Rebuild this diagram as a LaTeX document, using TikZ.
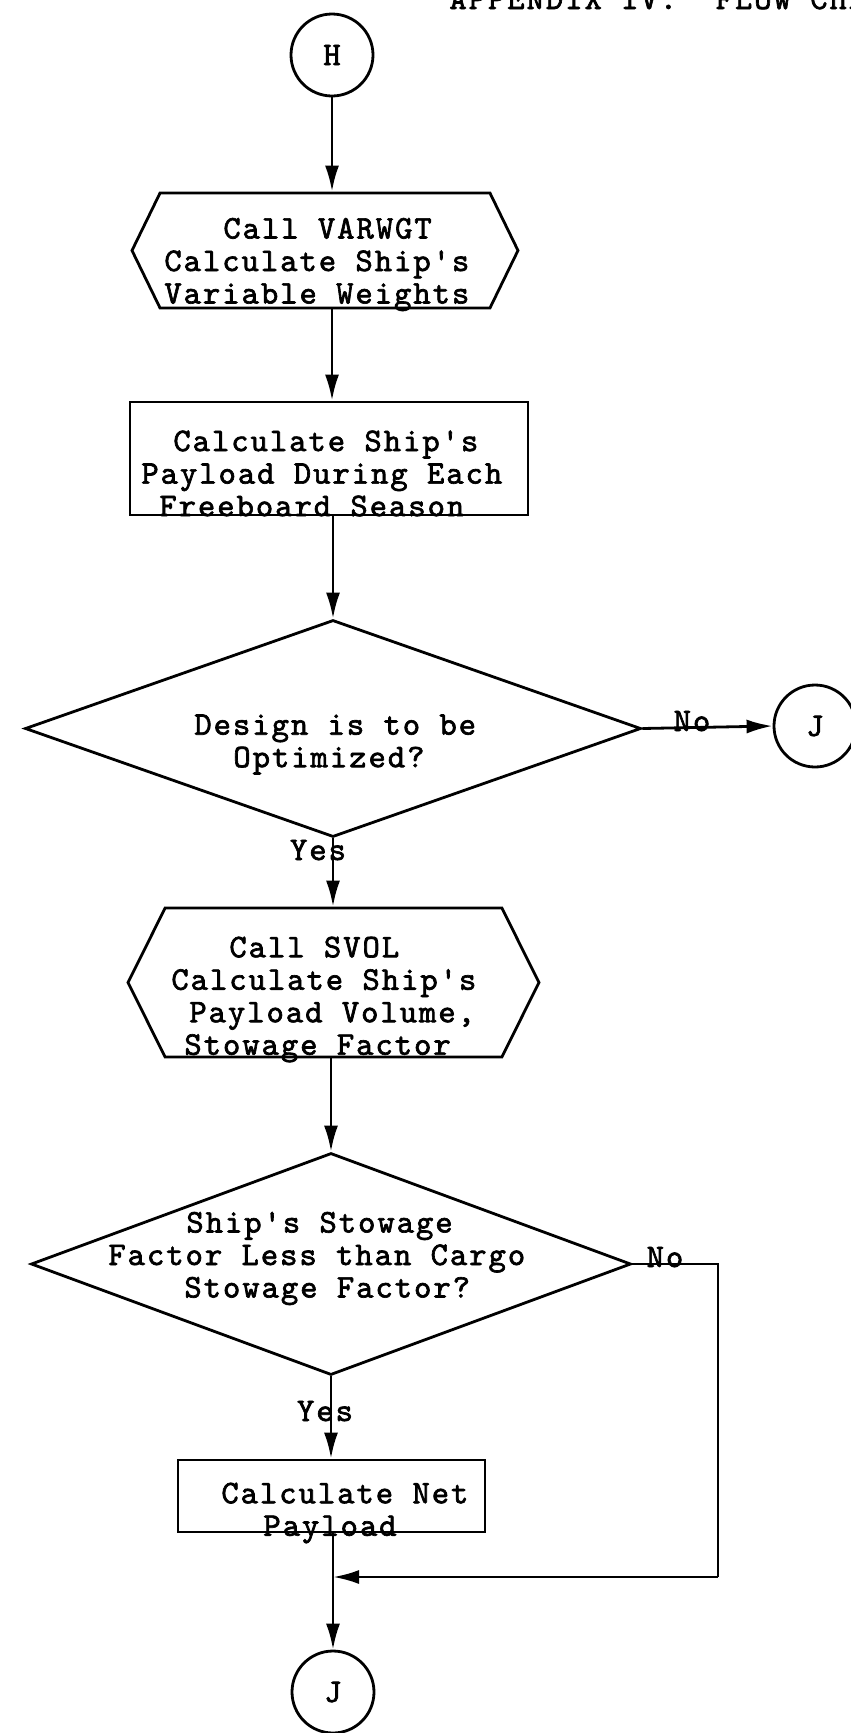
\documentclass[tikz,border=0pt]{standalone}
\usepackage{fontspec}
\setmonofont{lmmono10-regular.otf}[LetterSpace=6, FakeBold=2]
\usepackage{tikz}
\usetikzlibrary{positioning,shapes.geometric,shapes.symbols,arrows.meta}

\begin{document}
\begin{tikzpicture}[x=1pt, y=-1pt, line width=2.8pt,
	every node/.style={font=\ttfamily\fontsize{33}{32.5}\selectfont},
	connector/.style={draw, circle, minimum size=82pt, inner sep=0pt},
	subcall/.style={draw, signal, signal to=west and east, signal pointer angle=128, inner sep=0pt},
	process/.style={draw, rectangle, inner sep=0pt},
	decision/.style={draw, diamond, inner sep=0pt},
	typed/.style={align=left, inner sep=0pt, anchor=west},
	answer/.style={anchor=base, inner sep=0pt},
	flow/.style={-{Latex[length=26pt, width=14pt]}}]

	\useasboundingbox (0,0) rectangle (851,1733);
	\clip (0,0) rectangle (851,1733);

	\node[anchor=base west, inner sep=0pt] (title) at (448,9) {APPENDIX IV.\ \ FLOW CHART};

	\node[connector] (h) at (332,55) {H};

	\node[subcall, minimum width=386pt, minimum height=115pt] (varwgt) at (325,250.5) {};
	\node[typed] (varwgt-t) at (163,264.5) {\hspace*{59pt}Call VARWGT\\Calculate Ship's\\Variable Weights};

	\node[process, minimum width=398pt, minimum height=113pt] (payload) at (329,458.5) {};
	\node[typed] (payload-t) at (140,473.5) {\hspace*{32pt}Calculate Ship's\\Payload During Each\\\hspace*{18pt}Freeboard Season};

	\node[decision, minimum width=616pt, minimum height=217pt] (optq) at (333,728.5) {};
	\node[typed] (optq-t) at (193,744.5) {Design is to be\\\hspace*{39pt}Optimized?};
	\node[connector] (jopt) at (815,726) {J};
	\node[answer] (optq-no) at (692,731) {No};
	\node[answer] (optq-yes) at (318,860) {Yes};

	\node[subcall, signal pointer angle=127, minimum width=411pt, minimum height=149pt] (svol) at (333.5,982.5) {};
	\node[typed] (svol-t) at (170,999.5) {\hspace*{58pt}Call SVOL\\Calculate Ship's\\\hspace*{18pt}Payload Volume,\\\hspace*{13pt}Stowage Factor};

	\node[decision, minimum width=600pt, minimum height=222pt] (stowq) at (331,1264) {};
	\node[typed] (stowq-t) at (107,1258.5) {\hspace*{78pt}Ship's Stowage\\Factor Less than Cargo\\\hspace*{76pt}Stowage Factor?};
	\node[answer] (stowq-no) at (665,1267) {No};
	\node[answer] (stowq-yes) at (325,1421) {Yes};

	\node[process, minimum width=307pt, minimum height=72pt] (netpay) at (331.5,1496) {};
	\node[typed] (netpay-t) at (220,1513) {Calculate Net\\\hspace*{42pt}Payload};

	\node[connector] (jend) at (333,1692) {J};

	\coordinate (merge) at (333,1577);
	\coordinate (loop) at (718,1577);

	\draw[flow] (h.south) -- (h.south |- varwgt.north);
	\draw[flow] (h |- varwgt.south) -- (h |- payload.north);
	\draw[flow] (optq.north |- payload.south) -- (optq.north);
	\draw[flow] (optq.east) -- (jopt.west);
	\draw[flow] (optq.south) -- (optq.south |- svol.north);
	\draw[flow] (stowq.north |- svol.south) -- (stowq.north);
	\draw[flow] (stowq.south) -- (stowq.south |- netpay.north);
	\draw (stowq.east) -| (loop);
	\draw[flow] (loop) -- (merge);
	\draw[flow] (merge |- netpay.south) -- (jend.north);

\end{tikzpicture}
\end{document}
